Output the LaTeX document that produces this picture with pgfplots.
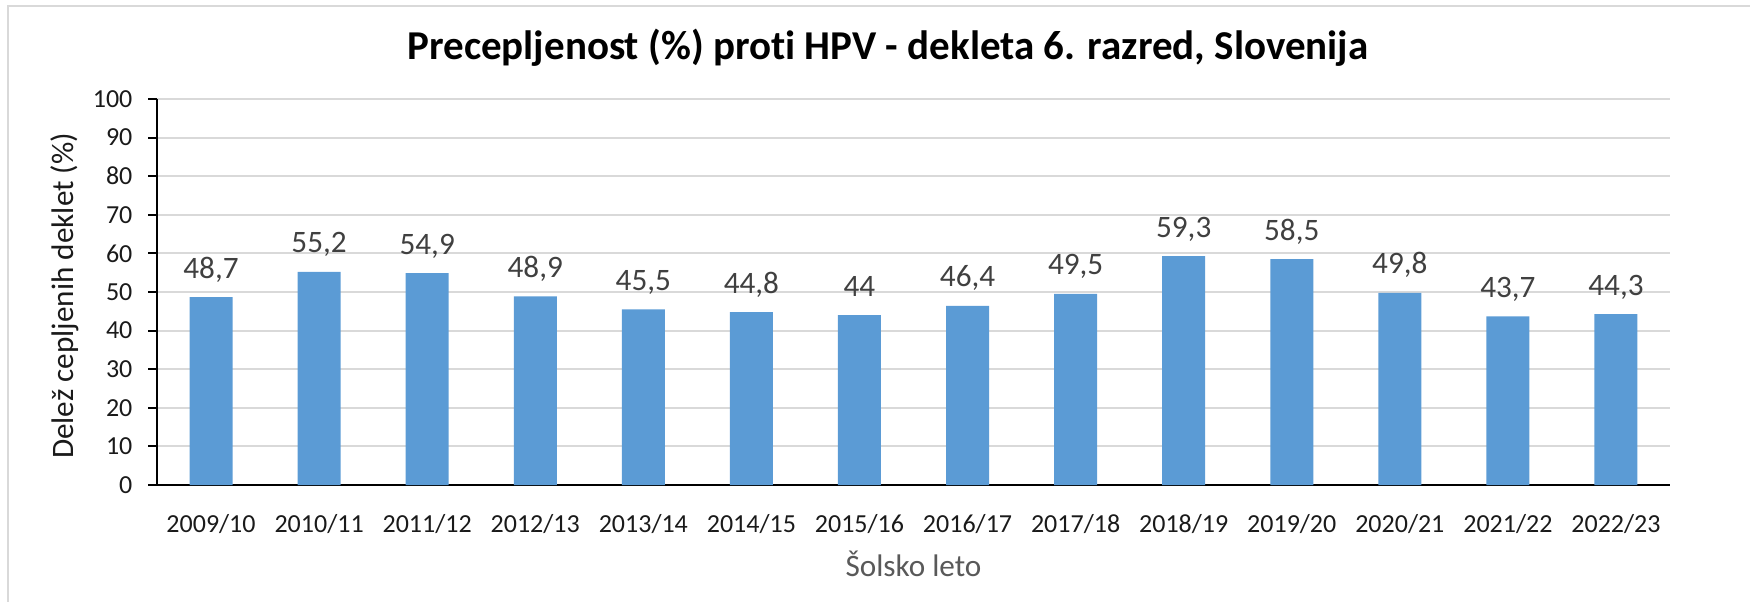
\documentclass[border=0pt]{standalone}
\usepackage{fontspec}
\setmainfont{Carlito}[Ligatures=NoCommon, RawFeature={-liga;-clig;-dlig;-calt}]
\usepackage{pgfplots}
\usepackage{pgfplotstable}
\pgfplotsset{compat=1.18}
\definecolor{barblue}{HTML}{5B9BD5}
\definecolor{gridgray}{HTML}{D9D9D9}
\definecolor{labgray}{HTML}{404040}
\definecolor{xlabgray}{HTML}{595959}
\definecolor{tickblack}{HTML}{1A1A1A}
\pgfplotstableread{
x y
0 48.7
1 55.2
2 54.9
3 48.9
4 45.5
5 44.8
6 44
7 46.4
8 49.5
9 59.3
10 58.5
11 49.8
12 43.7
13 44.3
}\hpvdata
\begin{document}
\begin{tikzpicture}
\useasboundingbox (0,0) rectangle (875pt,300.5pt);
\draw[gridgray, line width=1pt] (4.2pt,-2pt) -- (4.2pt,297.6pt) -- (877pt,297.6pt);
\node[anchor=base, inner sep=0pt, font=\fontsize{20.5}{24}\selectfont\bfseries] at (444pt,270.85pt) {Precepljenost (\%) prot{}i HPV - dekleta 6. razred, Slovenija};
\begin{axis}[
  at={(78.5pt,58pt)}, anchor=south west,
  width=756.5pt, height=193pt, scale only axis,
  xmin=-0.5, xmax=13.5, ymin=0, ymax=100,
  ytick={0,10,...,100},
  xtick={0,...,13},
  xticklabels={2009/10,2010/11,2011/12,2012/13,2013/14,2014/15,2015/16,2016/17,2017/18,2018/19,2019/20,2020/21,2021/22,2022/23},
  axis x line*=bottom, axis y line*=left,
  axis line style={black, line width=1pt},
  x axis line style={line width=1.2pt},
  ymajorgrids, grid style={gridgray, line width=1pt},
  xtick style={draw=none},
  ytick style={black, line width=1pt},
  tick align=outside, major tick length=4.5pt,
  /pgf/number format/assume math mode=true,
  /pgf/number format/use comma,
  /pgf/number format/fixed,
  /pgf/number format/precision=1,
  yticklabel style={anchor=east, inner sep=0pt, xshift=-7.6pt, font=\fontsize{13}{15}\selectfont, text=tickblack},
  xticklabel style={anchor=base, inner sep=0pt, yshift=-19.2pt, font=\fontsize{13}{15}\selectfont, text=tickblack},
  xlabel={Šolsko leto},
  ylabel={Delež cepljenih deklet (\%)},
  every axis x label/.style={at={(axis description cs:0.5,0)}, anchor=base, yshift=-45.5pt, inner sep=0pt, font=\fontsize{15.6}{18}\selectfont, text=xlabgray},
  every axis y label/.style={at={(axis description cs:-0.0549,0.49)}, rotate=90, anchor=base, inner sep=0pt, font=\fontsize{15.6}{18}\selectfont, text=tickblack},
  ybar, bar width=21.5pt,
  nodes near coords,
  nodes near coords style={anchor=base, inner sep=0pt, yshift=9.5pt, font=\fontsize{15.6}{18}\selectfont, text=labgray},
  clip=false,
]
\addplot[fill=barblue, draw=none] table[x=x, y=y] {\hpvdata};
\end{axis}
\end{tikzpicture}
\end{document}
